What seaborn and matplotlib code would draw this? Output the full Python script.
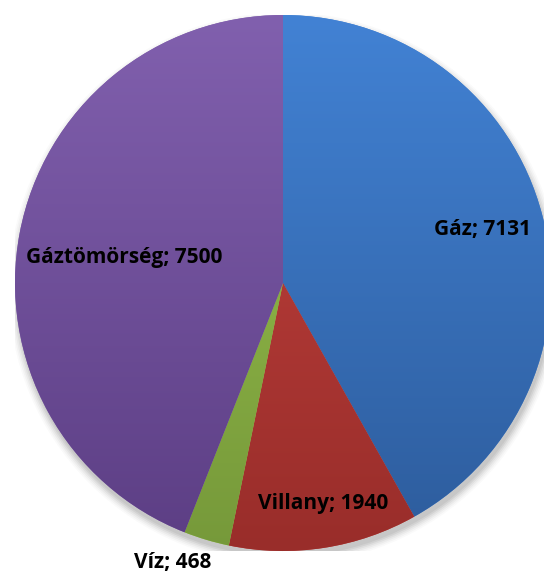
"""
Pie chart of gas-related costs (Gáz, Villany, Víz, Gáztömörség)
"""

import numpy as np
import matplotlib
matplotlib.use('Agg')
import matplotlib.pyplot as plt
from matplotlib.colors import LinearSegmentedColormap
from matplotlib.patches import Circle
import seaborn as sns

# Data
categories = ['Gáz', 'Villany', 'Víz', 'Gáztömörség']
values = [7131, 1940, 468, 7500]

# gradient colours per slice (top, bottom)
top_colors = ['#4282D4', '#C4433F', '#9BC44E', '#8160AE']
bottom_colors = ['#2D5C9C', '#992D2A', '#76993A', '#5C3E84']

# label placement: radial distance and angle shift (deg) from the slice middle
label_radius = [0.77, 0.835, 1.12, 0.60]
label_shift = [0.5, 1.5, -5.0, 1.5]

sns.set_theme(style='white')
plt.rcParams['font.family'] = ['Open Sans', 'DejaVu Sans']

W, H = 544, 574
fig = plt.figure(figsize=(W / 100, H / 100), dpi=100)
fig.patch.set_facecolor('white')

cx, cy, r = 283, 283, 268
ax = fig.add_axes([(cx - r) / W, (H - cy - r) / H, 2 * r / W, 2 * r / H])
ax.set_facecolor('white')

# soft shadow beneath the pie
for i, a in enumerate(np.linspace(0.06, 0.02, 6)):
    ax.add_patch(Circle((0.006, -0.02), 1.0 + 0.006 * i, color='black',
                        alpha=a, lw=0, zorder=0))

wedges, _ = ax.pie(values, startangle=90, counterclock=False, radius=1.0,
                   wedgeprops={'linewidth': 0, 'antialiased': True})

grad = np.linspace(0, 1, 256).reshape(-1, 1)
for w, c_top, c_bot in zip(wedges, top_colors, bottom_colors):
    w.set_facecolor(c_top)
    cmap = LinearSegmentedColormap.from_list('g', [c_top, c_bot])
    im = ax.imshow(grad, cmap=cmap, extent=(-1, 1, -1, 1), origin='upper',
                   aspect='auto', zorder=2)
    im.set_clip_path(w)

# labels
for w, cat, val, rr, sh in zip(wedges, categories, values, label_radius, label_shift):
    mid = np.deg2rad((w.theta1 + w.theta2) / 2 + sh)
    ax.text(rr * np.cos(mid), rr * np.sin(mid), f'{cat}; {val}',
            ha='center', va='center', fontsize=15, fontweight='bold',
            color='black', zorder=5)

ax.set_xlim(-1, 1)
ax.set_ylim(-1, 1)
ax.set_aspect('auto')
ax.axis('off')

plt.savefig('out.png', dpi=100)
